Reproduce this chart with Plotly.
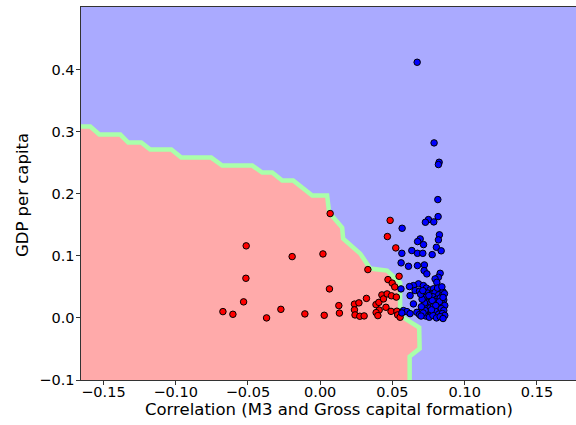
import plotly.graph_objects as go

# Decision boundary (class 0 region lies below/left of it)
boundary_x = [-0.170, -0.1591, -0.1528, -0.1383, -0.1328, -0.1238, -0.1176, -0.1030,
              -0.0961, -0.0754, -0.0678, -0.0470, -0.0401, -0.0332, -0.0263, -0.0187,
              -0.0055, 0.0048, 0.0062, 0.0152, 0.0159, 0.0277, 0.0346, 0.0463,
              0.0553, 0.0553, 0.0685, 0.0688, 0.0619, 0.0619]
boundary_y = [0.308, 0.308, 0.2952, 0.2952, 0.2823, 0.2823, 0.2710, 0.2710,
              0.2581, 0.2581, 0.2452, 0.2452, 0.2340, 0.2340, 0.2211, 0.2211,
              0.1970, 0.1970, 0.1696, 0.1454, 0.1277, 0.1035, 0.0794, 0.0762,
              0.0568, 0.0037, -0.0156, -0.0494, -0.0623, -0.110]

# Class 0 (red) samples
red_x = [0.0069, -0.0512, -0.0194, 0.0019, -0.0514, 0.0064, 0.0330, -0.0530,
         -0.0673, -0.0604, -0.0371, -0.0272, -0.0106, 0.0028, 0.0129, 0.0133,
         0.0237, 0.0268, 0.0237, 0.0241, 0.0274, 0.0304, 0.0320, 0.0386,
         0.0406, 0.0408, 0.0387, 0.0399, 0.0427, 0.0438, 0.0463, 0.0493,
         0.0527, 0.0455, 0.0490, 0.0531, 0.0536, 0.0553, 0.0469, 0.0498,
         0.0516, 0.0546, 0.0484, 0.0465, 0.0523]
red_y = [0.168, 0.116, 0.0987, 0.103, 0.0638, 0.0467, 0.0778, 0.0258,
         0.0101, 0.0058, 0.0000, 0.0138, 0.0064, 0.0042, 0.0198, 0.0077,
         0.0222, 0.0242, 0.0130, 0.0048, 0.0026, 0.0032, 0.0314, 0.0214,
         0.0250, 0.0126, 0.0085, 0.0037, 0.0370, 0.0306, 0.0386, 0.0356,
         0.0335, 0.0171, 0.0105, 0.0108, 0.0048, 0.0010, 0.0617, 0.0560,
         0.0498, 0.0670, 0.157, 0.131, 0.1127]

# Class 1 (blue) samples
blue_x = [0.0671, 0.0788, 0.0823, 0.0818, 0.0814, 0.0816, 0.0749, 0.0728,
          0.0786, 0.0567, 0.0825, 0.0692, 0.0674, 0.0818, 0.0804, 0.0634,
          0.0673, 0.0710, 0.0775, 0.0565, 0.0560, 0.0611, 0.0673, 0.0721,
          0.0719, 0.0738, 0.0830, 0.0818, 0.0795, 0.0807, 0.0680, 0.0645,
          0.0618, 0.0714, 0.0559, 0.0657, 0.0687, 0.0622, 0.0645, 0.0669,
          0.0687, 0.0576, 0.0600, 0.0565, 0.0766, 0.0622, 0.0726, 0.0715,
          0.0837,
          0.0735, 0.0760, 0.0785, 0.0810, 0.0835, 0.0850, 0.0745, 0.0770,
          0.0795, 0.0820, 0.0845, 0.0860, 0.0730, 0.0755, 0.0780, 0.0805,
          0.0830, 0.0855, 0.0740, 0.0765, 0.0790, 0.0815, 0.0845, 0.0862,
          0.0735, 0.0760, 0.0785, 0.0810, 0.0838, 0.0855, 0.0745, 0.0770,
          0.0795, 0.0820, 0.0845, 0.0862, 0.0730, 0.0755, 0.0780, 0.0805,
          0.0830, 0.0850, 0.0775, 0.0825, 0.0800, 0.0770, 0.0850, 0.0752,
          0.0812, 0.0842, 0.0725, 0.0722, 0.0705, 0.0700, 0.0712, 0.0698,
          0.0695, 0.0710]
blue_y = [0.4116, 0.2818, 0.2506, 0.2469, 0.1905, 0.1631, 0.1583, 0.1540,
          0.1546, 0.1443, 0.1338, 0.1272, 0.1229, 0.1256, 0.1137, 0.1084,
          0.1040, 0.1040, 0.1019, 0.1040, 0.0886, 0.0831, 0.0842, 0.0853,
          0.0762, 0.0709, 0.0718, 0.0654, 0.0628, 0.0573, 0.0548, 0.0520,
          0.0504, 0.0520, 0.0467, 0.0440, 0.0428, 0.0359, 0.0225, 0.0090,
          0.0053, 0.0118, 0.0101, 0.0080, 0.0053, 0.0069, 0.0069, 0.118,
          0.108,
          0.048, 0.045, 0.047, 0.044, 0.046, 0.042, 0.040, 0.038,
          0.041, 0.037, 0.036, 0.039, 0.033, 0.031, 0.034, 0.030,
          0.032, 0.029, 0.025, 0.024, 0.027, 0.022, 0.023, 0.020,
          0.018, 0.016, 0.019, 0.014, 0.015, 0.012, 0.010, 0.008,
          0.011, 0.006, 0.007, 0.004, 0.003, 0.001, 0.004, 0.000,
          0.002, -0.001, 0.028, 0.026, 0.020, 0.013, 0.033, 0.036,
          0.048, 0.050, 0.012, 0.024, 0.030, 0.018, 0.008, 0.003,
          0.038, 0.044]

x_ticks = [-0.15, -0.10, -0.05, 0.00, 0.05, 0.10, 0.15]
y_ticks = [-0.1, 0.0, 0.1, 0.2, 0.3, 0.4]

x_title = "Correlation (M3 and Gross capital formation)"
y_title = "GDP per capita"

PINK = "#FFAAAA"
GREEN = "#AAFFAA"
BLUE_BG = "#AAAAFF"
TICK_SIZE = 14.5
TITLE_SIZE = 16.5

fig = go.Figure()

# Class-0 region polygon built from the boundary
poly_x = boundary_x + [boundary_x[-1], -0.3, -0.3]
poly_y = boundary_y + [-0.3, -0.3, boundary_y[0]]
fig.add_trace(go.Scatter(x=poly_x, y=poly_y, mode="lines", fill="toself",
                         fillcolor=PINK, line=dict(width=0, color=PINK),
                         hoverinfo="skip", showlegend=False))
fig.add_trace(go.Scatter(x=boundary_x, y=boundary_y, mode="lines",
                         line=dict(color=GREEN, width=4.5),
                         hoverinfo="skip", showlegend=False))
fig.add_trace(go.Scatter(x=red_x, y=red_y, mode="markers",
                         marker=dict(color="#FF0000", size=6.5,
                                     line=dict(color="black", width=1)),
                         showlegend=False))
fig.add_trace(go.Scatter(x=blue_x, y=blue_y, mode="markers",
                         marker=dict(color="#0000FF", size=6.5,
                                     line=dict(color="black", width=1)),
                         showlegend=False))

fig.update_layout(
    width=576, height=425,
    margin=dict(l=81, r=0, t=7, b=45, autoexpand=False),
    paper_bgcolor="white", plot_bgcolor=BLUE_BG,
    font=dict(family="DejaVu Sans", size=TICK_SIZE, color="black"),
    showlegend=False,
    annotations=[
        dict(text=x_title, xref="paper", yref="paper", x=0.5, y=-0.0804,
             xanchor="center", yanchor="middle", showarrow=False,
             font=dict(size=TITLE_SIZE, family="DejaVu Sans", color="black")),
        dict(text=y_title, xref="paper", yref="paper", x=-0.117, y=0.496,
             xanchor="center", yanchor="middle", showarrow=False, textangle=-90,
             font=dict(size=TITLE_SIZE, family="DejaVu Sans", color="black")),
    ],
)
fig.update_xaxes(
    range=[-0.1655, 0.177], tickvals=x_ticks, tickformat=".2f", automargin=False,
    showgrid=False, zeroline=False, showline=True, linecolor="#333333",
    linewidth=1.2, mirror=True, ticks="outside", ticklen=3.5, tickcolor="#333333",
    ticklabelstandoff=-5,
    tickfont=dict(size=TICK_SIZE, family="DejaVu Sans", color="black"),
)
fig.update_yaxes(
    range=[-0.1, 0.5006], tickvals=y_ticks, tickformat=".1f", automargin=False,
    showgrid=False, zeroline=False, showline=True, linecolor="#333333",
    linewidth=1.2, ticks="outside", ticklen=3.5, tickcolor="#333333",
    ticklabelstandoff=-1,
    tickfont=dict(size=TICK_SIZE, family="DejaVu Sans", color="black"),
)

fig.write_html("out.html", config={"displayModeBar": False},
               post_script="document.body.style.margin='0';document.body.style.overflow='hidden';")
